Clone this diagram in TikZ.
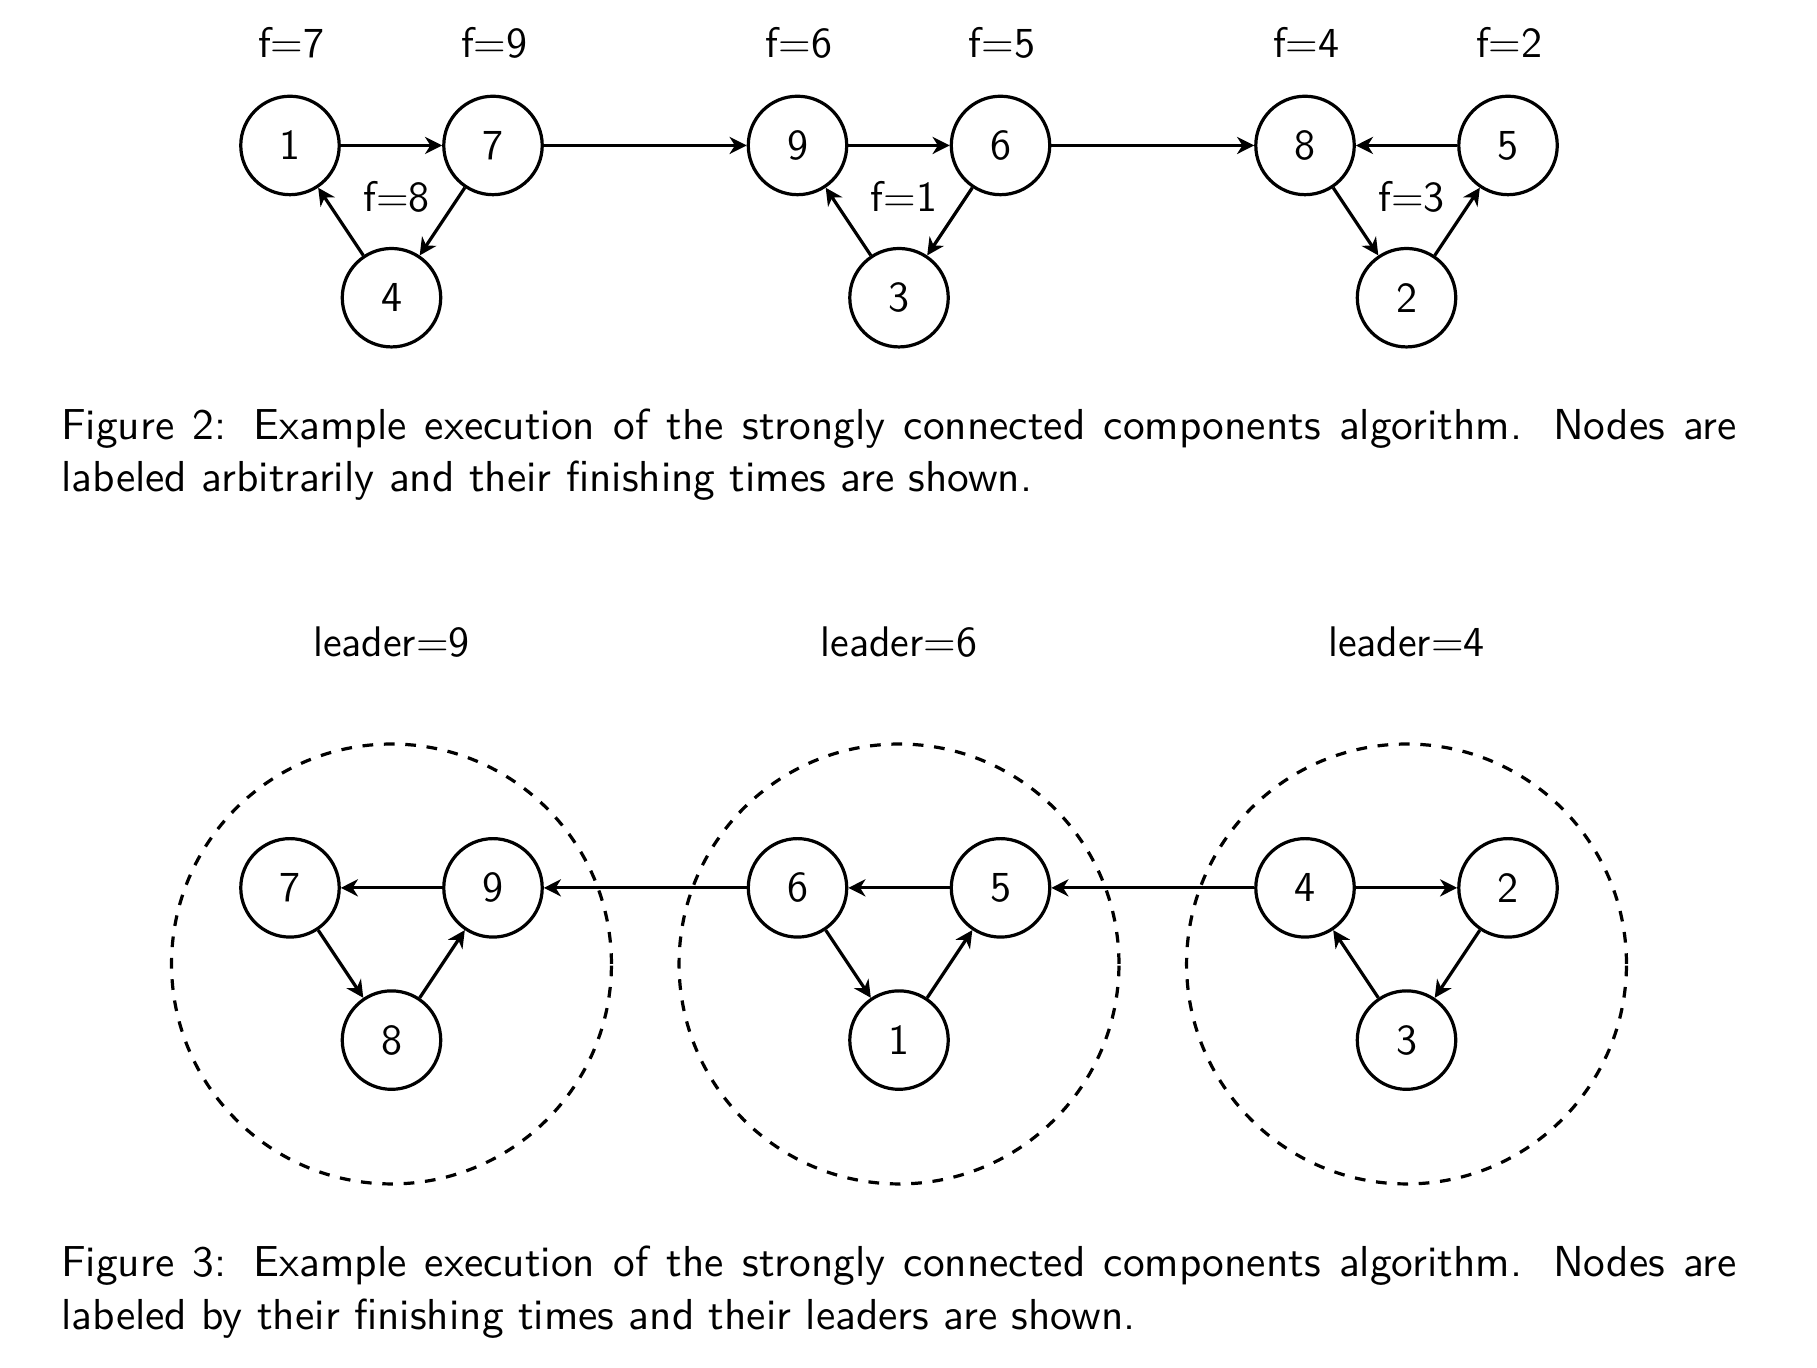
\documentclass[tikz,border=0pt]{standalone}
\usetikzlibrary{arrows.meta}
\font\capfont="[lmsans10-regular.otf]" at 12.15pt
\fontdimen7\capfont=1.35pt
\begin{document}
\begin{tikzpicture}[
  font=\sffamily\fontsize{12}{14.5}\selectfont,
  vert/.style={circle, draw, line width=0.9pt, minimum size=0.97cm, inner sep=0pt},
  arr/.style={line width=0.9pt, -{Stealth[length=4.8pt,width=4.8pt,inset=1.5pt]}},
  grp/.style={draw, dashed, line width=0.9pt},
  flab/.style={anchor=base, inner sep=0pt},
  capnode/.style={anchor=base west, inner sep=0pt},
]
\useasboundingbox (0,0) rectangle (17.901,-13.468);

% ---------- Figure 2 ----------
\node[vert] (a1) at (2.857,-1.433) {1};
\node[vert] (a7) at (4.857,-1.433) {7};
\node[vert] (a4) at (3.857,-2.933) {4};
\node[vert] (b9) at (7.857,-1.433) {9};
\node[vert] (b6) at (9.857,-1.433) {6};
\node[vert] (b3) at (8.857,-2.933) {3};
\node[vert] (c8) at (12.857,-1.433) {8};
\node[vert] (c5) at (14.857,-1.433) {5};
\node[vert] (c2) at (13.857,-2.933) {2};

\node[flab] (fa1) at (2.87,-0.565) {f=7};
\node[flab] (fa7) at (4.87,-0.565) {f=9};
\node[flab] (fb9) at (7.87,-0.565) {f=6};
\node[flab] (fb6) at (9.87,-0.565) {f=5};
\node[flab] (fc8) at (12.87,-0.565) {f=4};
\node[flab] (fc5) at (14.87,-0.565) {f=2};
\node[flab] (fa4) at (3.907,-2.086) {f=8};
\node[flab] (fb3) at (8.907,-2.086) {f=1};
\node[flab] (fc2) at (13.907,-2.086) {f=3};

\draw[arr] (a1) -- (a7);
\draw[arr] (a7) -- (a4);
\draw[arr] (a4) -- (a1);
\draw[arr] (a7) -- (b9);
\draw[arr] (b9) -- (b6);
\draw[arr] (b6) -- (b3);
\draw[arr] (b3) -- (b9);
\draw[arr] (b6) -- (c8);
\draw[arr] (c5) -- (c8);
\draw[arr] (c8) -- (c2);
\draw[arr] (c2) -- (c5);

\node[capnode] (cap2) at (0.596,-4.328) {\fontsize{12}{14.7}\selectfont\capfont\parbox[t]{469.75pt}{Figure 2: Example execution of the strongly connected components algorithm. Nodes are labeled arbitrarily and their finishing times are shown.}};

% ---------- Figure 3 ----------
\node[flab] (l1) at (3.857,-6.463) {leader=9};
\node[flab] (l2) at (8.857,-6.463) {leader=6};
\node[flab] (l3) at (13.857,-6.463) {leader=4};

\coordinate (o1) at (3.857,-9.497);
\coordinate (o2) at (8.857,-9.497);
\coordinate (o3) at (13.857,-9.497);
\draw[grp] (o1) circle (2.167);
\draw[grp] (o2) circle (2.167);
\draw[grp] (o3) circle (2.167);

\node[vert] (d7) at (2.857,-8.747) {7};
\node[vert] (d9) at (4.857,-8.747) {9};
\node[vert] (d8) at (3.857,-10.247) {8};
\node[vert] (e6) at (7.857,-8.747) {6};
\node[vert] (e5) at (9.857,-8.747) {5};
\node[vert] (e1) at (8.857,-10.247) {1};
\node[vert] (g4) at (12.857,-8.747) {4};
\node[vert] (g2) at (14.857,-8.747) {2};
\node[vert] (g3) at (13.857,-10.247) {3};

\draw[arr] (d9) -- (d7);
\draw[arr] (d7) -- (d8);
\draw[arr] (d8) -- (d9);
\draw[arr] (e6) -- (d9);
\draw[arr] (e5) -- (e6);
\draw[arr] (e6) -- (e1);
\draw[arr] (e1) -- (e5);
\draw[arr] (g4) -- (e5);
\draw[arr] (g4) -- (g2);
\draw[arr] (g2) -- (g3);
\draw[arr] (g3) -- (g4);

\node[capnode] (cap3) at (0.596,-12.578) {\fontsize{12}{14.7}\selectfont\capfont\parbox[t]{469.75pt}{Figure 3: Example execution of the strongly connected components algorithm. Nodes are labeled by their finishing times and their leaders are shown.}};
\end{tikzpicture}
\end{document}
